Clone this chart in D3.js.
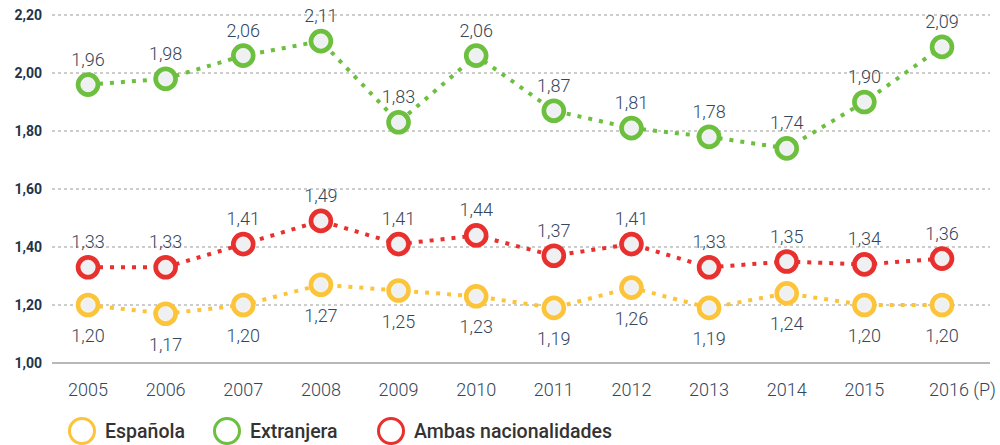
<!DOCTYPE html>
<html>
<head>
<meta charset="utf-8">
<script src="https://cdn.jsdelivr.net/npm/d3@7"></script>
<style>
  body { margin: 0; background: #fff; }
  svg { display: block; font-family: Roboto, "Open Sans", sans-serif; }
</style>
</head>
<body>
<script>
// Data
const years = ["2005", "2006", "2007", "2008", "2009", "2010", "2011", "2012", "2013", "2014", "2015", "2016"];
const yearLabels = ["2005", "2006", "2007", "2008", "2009", "2010", "2011", "2012", "2013", "2014", "2015", "2016 (P)"];
const espanola = [1.20, 1.17, 1.20, 1.27, 1.25, 1.23, 1.19, 1.26, 1.19, 1.24, 1.20, 1.20];
const extranjera = [1.96, 1.98, 2.06, 2.11, 1.83, 2.06, 1.87, 1.81, 1.78, 1.74, 1.90, 2.09];
const ambas = [1.33, 1.33, 1.41, 1.49, 1.41, 1.44, 1.37, 1.41, 1.33, 1.35, 1.34, 1.36];
const yTicks = [1.00, 1.20, 1.40, 1.60, 1.80, 2.00, 2.20];

const series = [
  { name: "Española", values: espanola, color: "#fcc43a", labelPos: "below" },
  { name: "Extranjera", values: extranjera, color: "#6cbf3f", labelPos: "above" },
  { name: "Ambas nacionalidades", values: ambas, color: "#e8302e", labelPos: "above" }
];

const width = 1000, height = 445;
const textColor = "#34465b";
const fmt = v => d3.format(".2f")(v).replace(".", ",");

const svg = d3.select("body").append("svg")
  .attr("width", width)
  .attr("height", height);

const x = d3.scalePoint()
  .domain(years)
  .range([88, 942]);

const y = d3.scaleLinear()
  .domain([1.0, 2.2])
  .range([363, 15]);

// gridlines
svg.append("g")
  .selectAll("line")
  .data(yTicks.filter(d => d > 1.0))
  .join("line")
  .attr("x1", 52).attr("x2", 990)
  .attr("y1", d => y(d)).attr("y2", d => y(d))
  .attr("stroke", "#9a9a9a")
  .attr("stroke-width", 1)
  .attr("stroke-dasharray", "3,3");

// baseline
svg.append("line")
  .attr("x1", 52).attr("x2", 990)
  .attr("y1", y(1.0)).attr("y2", y(1.0))
  .attr("stroke", "#a0a0a0")
  .attr("stroke-width", 1.5);

// y axis labels
svg.append("g")
  .selectAll("text")
  .data(yTicks)
  .join("text")
  .attr("x", 42)
  .attr("y", d => y(d) + 5)
  .attr("text-anchor", "end")
  .attr("font-size", 14)
  .attr("font-weight", 700)
  .attr("fill", "#243447")
  .text(d => fmt(d));

// x axis labels (last one runs out to the right edge)
svg.append("g")
  .selectAll("text")
  .data(years)
  .join("text")
  .attr("x", (d, i) => i === years.length - 1 ? 996 : x(d))
  .attr("y", 396)
  .attr("text-anchor", (d, i) => i === years.length - 1 ? "end" : "middle")
  .attr("font-size", 18)
  .attr("font-weight", 300)
  .attr("fill", textColor)
  .text((d, i) => yearLabels[i]);

const line = d3.line()
  .x((d, i) => x(years[i]))
  .y(d => y(d));

series.forEach(s => {
  const g = svg.append("g");

  g.append("path")
    .datum(s.values)
    .attr("d", line)
    .attr("fill", "none")
    .attr("stroke", s.color)
    .attr("stroke-width", 4)
    .attr("stroke-dasharray", "4,7");

  g.selectAll("circle.pt")
    .data(s.values)
    .join("circle")
    .attr("class", "pt")
    .attr("cx", (d, i) => x(years[i]))
    .attr("cy", d => y(d))
    .attr("r", 9.8)
    .attr("fill", "#eff0f2")
    .attr("stroke", s.color)
    .attr("stroke-width", 5);

  g.selectAll("circle.inner")
    .data(s.values)
    .join("circle")
    .attr("class", "inner")
    .attr("cx", (d, i) => x(years[i]))
    .attr("cy", d => y(d))
    .attr("r", 7.2)
    .attr("fill", "none")
    .attr("stroke", "#ffffff")
    .attr("stroke-opacity", 0.6)
    .attr("stroke-width", 1);

  g.selectAll("text")
    .data(s.values)
    .join("text")
    .attr("x", (d, i) => x(years[i]))
    .attr("y", d => s.labelPos === "above" ? y(d) - 19 : y(d) + 37)
    .attr("text-anchor", "middle")
    .attr("font-size", 18)
    .attr("font-weight", 300)
    .attr("fill", textColor)
    .text(d => fmt(d));
});

// legend
const legendX = [82, 227, 391];
const legend = svg.append("g")
  .selectAll("g")
  .data(series)
  .join("g")
  .attr("transform", (d, i) => `translate(${legendX[i]},431)`);

legend.append("circle")
  .attr("r", 12.5)
  .attr("fill", "none")
  .attr("stroke", d => d.color)
  .attr("stroke-width", 3);

legend.append("text")
  .attr("x", 23)
  .attr("y", 7)
  .attr("font-size", 19.5)
  .attr("font-weight", 500)
  .attr("fill", "#333")
  .text(d => d.name);
</script>
</body>
</html>
